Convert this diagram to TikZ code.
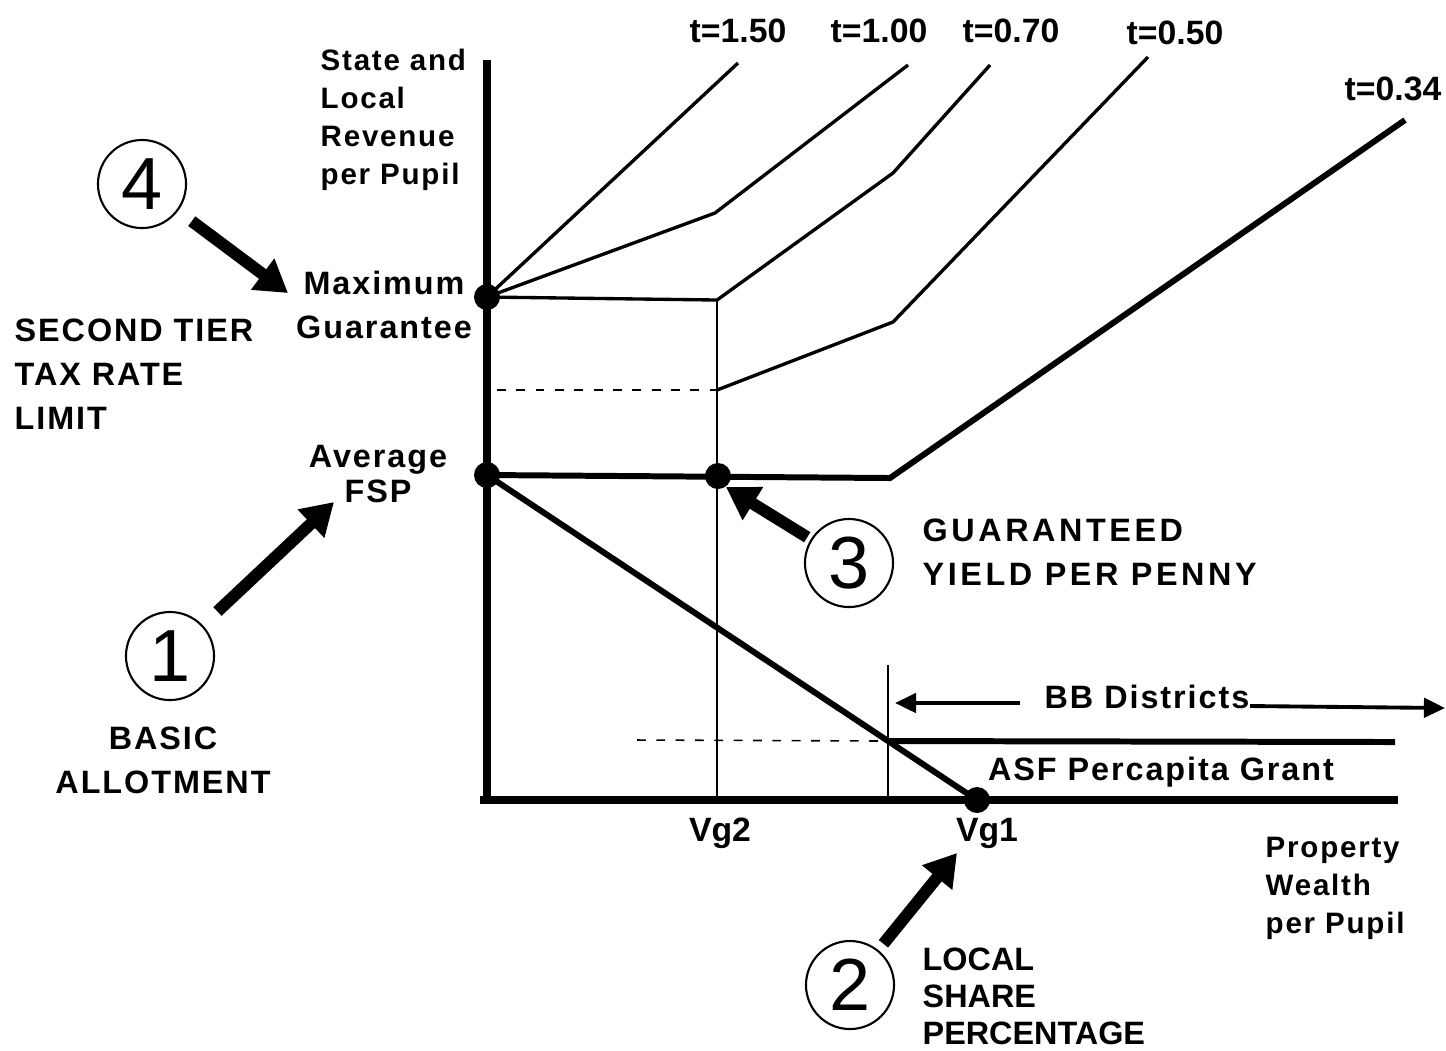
\documentclass[tikz,border=0pt]{standalone}
\usepackage{fontspec}
\setmainfont{Liberation Sans}
\newfontfamily\lsfont{Liberation Sans}[LetterSpace=6]
\newfontfamily\lsfontwide{Liberation Sans}[LetterSpace=11]
\usetikzlibrary{arrows.meta}
\begin{document}
\begin{tikzpicture}[x=0.01cm,y=-0.01cm,
  axisline/.style={line width=2.2pt},
  heavy/.style={line width=1.7pt},
  rate/.style={line width=0.95pt},
  guide/.style={line width=0.5pt},
  dashguide/.style={line width=0.45pt,dash pattern=on 2.5pt off 3pt},
  dot/.style={circle,fill=black,inner sep=0pt,minimum size=0.26cm},
  bigarrow/.style={line width=3.4pt,-{Triangle[length=9pt,width=10.5pt]}},
  bbarrow/.style={line width=1.1pt,-{Triangle[length=6pt,width=5.5pt]}},
  num/.style={circle,draw,line width=0.6pt,minimum size=0.88cm,inner sep=0pt,font=\fontsize{21}{21}\selectfont},
  lbl/.style={inner sep=0pt,font=\lsfont\bfseries\fontsize{9.2}{12.6}\selectfont},
  small/.style={inner sep=0pt,font=\lsfont\bfseries\fontsize{8.4}{10.8}\selectfont},
  tlbl/.style={inner sep=0pt,font=\bfseries\fontsize{9.6}{11}\selectfont}
]
\useasboundingbox (0,0) rectangle (1446,1050);

% key points
\coordinate (ytop) at (487,60);
\coordinate (yO) at (487,803);
\coordinate (xO) at (480,800);
\coordinate (xend) at (1398,800);
\coordinate (M) at (487,297);
\coordinate (F) at (487,475);
\coordinate (G) at (718,476);
\coordinate (V1) at (977,800);
\coordinate (K) at (890,478);
\coordinate (Vg2top) at (717,300);
\coordinate (Vg2bot) at (717,800);
\coordinate (C) at (888,741);
\coordinate (Ctop) at (888,665);
\coordinate (Cbot) at (888,800);
\coordinate (ASFend) at (1395,742);
\coordinate (d1s) at (497,390);
\coordinate (d1e) at (717,390);
\coordinate (d2s) at (637,740);

% rate line ends and kinks
\coordinate (e150) at (738,63);
\coordinate (k100) at (715,213);
\coordinate (e100) at (908,65);
\coordinate (k70) at (893,173);
\coordinate (e70) at (990,65);
\coordinate (k50) at (893,322);
\coordinate (e50) at (1148,57);
\coordinate (e34) at (1405,120);

% guides
\draw[guide] (Vg2top) -- (Vg2bot);
\draw[guide] (Ctop) -- (Cbot);
\draw[dashguide] (d1s) -- (d1e);
\draw[dashguide] (d2s) -- (C);

% rate lines
\draw[rate] (M) -- (e150);
\draw[rate] (M) -- (k100) -- (e100);
\draw[rate] (M) -- (Vg2top) -- (k70) -- (e70);
\draw[rate] (d1e) -- (k50) -- (e50);
\draw[heavy] (F) -- (K) -- (e34);
\draw[heavy] (F) -- (V1);
\draw[heavy] (C) -- (ASFend);

% axes
\draw[axisline] (ytop) -- (yO);
\draw[axisline] (xO) -- (xend);

% dots
\node[dot] (dM) at (M) {};
\node[dot] (dF) at (F) {};
\node[dot] (dG) at (G) {};
\node[dot] (dV1) at (V1) {};

% t labels
\node[tlbl] (t150) at (738,31) {t=1.50};
\node[tlbl] (t100) at (879,31) {t=1.00};
\node[tlbl] (t070) at (1011,31) {t=0.70};
\node[tlbl] (t050) at (1175,33) {t=0.50};
\node[tlbl] (t034) at (1393,89) {t=0.34};

% axis labels
\node[small,anchor=north west,align=left] (ylab) at (320,48) {State and\\Local\\Revenue\\per Pupil};
\node[small,anchor=north west,align=left] (xlab) at (1265,836) {Property\\Wealth\\per Pupil};
\node[lbl,align=center] (maxg) at (384,305) {Maximum\\Guarantee};
\node[lbl,align=center,font=\lsfont\bfseries\fontsize{9.2}{10}\selectfont] (fsp) at (378,474) {Average\\FSP};
\node[tlbl] (vg2) at (720,833) {Vg2};
\node[tlbl] (vg1) at (987,833) {Vg1};
\node[lbl] (bb) at (1147,697) {BB Districts};
\node[lbl] (asf) at (1161,772) {ASF Percapita Grant};

% BB arrows
\coordinate (bbLs) at (1020,703);
\coordinate (bbLe) at (895,703);
\coordinate (bbRs) at (1250,706);
\coordinate (bbRe) at (1445,708);
\draw[bbarrow] (bbLs) -- (bbLe);
\draw[bbarrow] (bbRs) -- (bbRe);

% side texts
\node[lbl,anchor=north west,align=left] (tier) at (14,318) {SECOND TIER\\TAX RATE\\LIMIT};
\node[lbl,align=center] (basic) at (163,760) {BASIC\\ALLOTMENT};
\node[lbl,anchor=north west,align=left,font=\lsfontwide\bfseries\fontsize{9.2}{12.6}\selectfont] (gyp) at (922,518) {GUARANTEED\\YIELD PER PENNY};
\node[lbl,anchor=north west,align=left,font=\bfseries\fontsize{9.2}{10.6}\selectfont] (lsp) at (922,947) {LOCAL\\SHARE\\PERCENTAGE};

% circled numbers
\node[num] (n4) at (142,184) {4};
\node[num] (n1) at (170,656) {1};
\node[num] (n3) at (849,563) {3};
\node[num] (n2) at (850,985) {2};

% big arrows
\coordinate (a4) at (288,293);
\coordinate (a1) at (334,502);
\coordinate (a3) at (726,487);
\coordinate (a2) at (957,853);
\draw[bigarrow,shorten <=0.17cm] (n4) -- (a4);
\draw[bigarrow,shorten <=0.2cm] (n1) -- (a1);
\draw[bigarrow,shorten <=0.04cm] (n3) -- (a3);
\draw[bigarrow,shorten <=0.08cm] (n2) -- (a2);
\end{tikzpicture}
\end{document}
